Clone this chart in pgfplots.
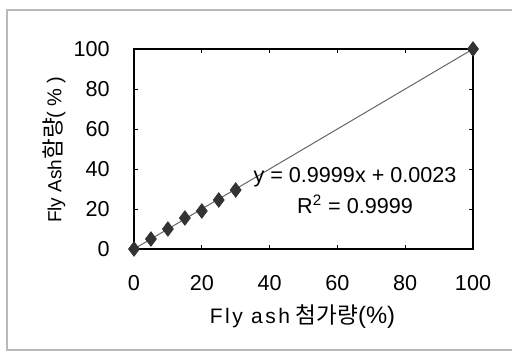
\documentclass[border=0pt]{standalone}
\usepackage{fontspec}
\setmainfont{Liberation Sans}
\newfontfamily\kr{Noto Sans CJK KR}
\newfontfamily\widefont[LetterSpace=12]{Liberation Sans}
\newfontfamily\widerfont[LetterSpace=25]{Liberation Sans}
\usepackage{pgfplots}
\pgfplotsset{compat=1.18}
\begin{document}
\begin{tikzpicture}
% canvas: 256pt x 176pt
\useasboundingbox (0,0) rectangle (256pt,176pt);
\clip (0,0) rectangle (256pt,176pt);
\fill[white] (0,0) rectangle (256pt,176pt);
\draw[gray!55, line width=0.8pt] (3.5pt,1pt) rectangle (262pt,171pt);
\begin{axis}[
  at={(67pt,51.5pt)}, anchor=south west,
  scale only axis, width=169.5pt, height=100pt,
  xmin=0, xmax=100, ymin=0, ymax=100,
  xtick={0,20,...,100}, ytick={0,20,...,100},
  tick align=inside, major tick length=2pt,
  tick style={black, line width=0.4pt},
  axis line style={black, line width=0.9pt},
  /pgf/number format/assume math mode=true,
  ticklabel style={font=\fontsize{10.8}{12}\selectfont},
  xticklabel style={anchor=north, inner sep=0pt, yshift=-13pt},
  yticklabel style={anchor=east, inner sep=0pt, xshift=-12pt},
  xlabel={{\fontsize{10.5}{12}\widefont Fly ash} {\fontsize{11.3}{12}\kr 첨가량}{\fontsize{11.9}{12}\selectfont(\%)}},
  ylabel={{\fontsize{9.5}{12}\selectfont Fly Ash}{\fontsize{11.25}{12}\kr 함량}{\fontsize{10}{12}\widerfont(\%)}},
  x label style={at={(axis description cs:0.497,-0.34)}, anchor=center},
  y label style={at={(axis description cs:-0.236,0.495)}, anchor=center, rotate=0},
  clip=false,
]
% linear trend line: y = 0.9999x + 0.0023
\addplot[gray!80!black, line width=0.5pt] coordinates {(0,0.0023) (100,99.9923)};
% measured contents
\addplot[only marks, mark=diamond*, mark size=3.6pt, mark options={fill=black!80, draw=black!80}]
  coordinates {(0,0) (5,5) (10,10) (15,15.5) (20,19) (25,24.5) (30,29.5) (100,100)};
\node[align=center, font=\fontsize{10.8}{15.5}\selectfont] at (axis cs:65.2,29.2)
  {y = 0.9999x + 0.0023\\R\textsuperscript{2} = 0.9999};
\end{axis}
\end{tikzpicture}
\end{document}
